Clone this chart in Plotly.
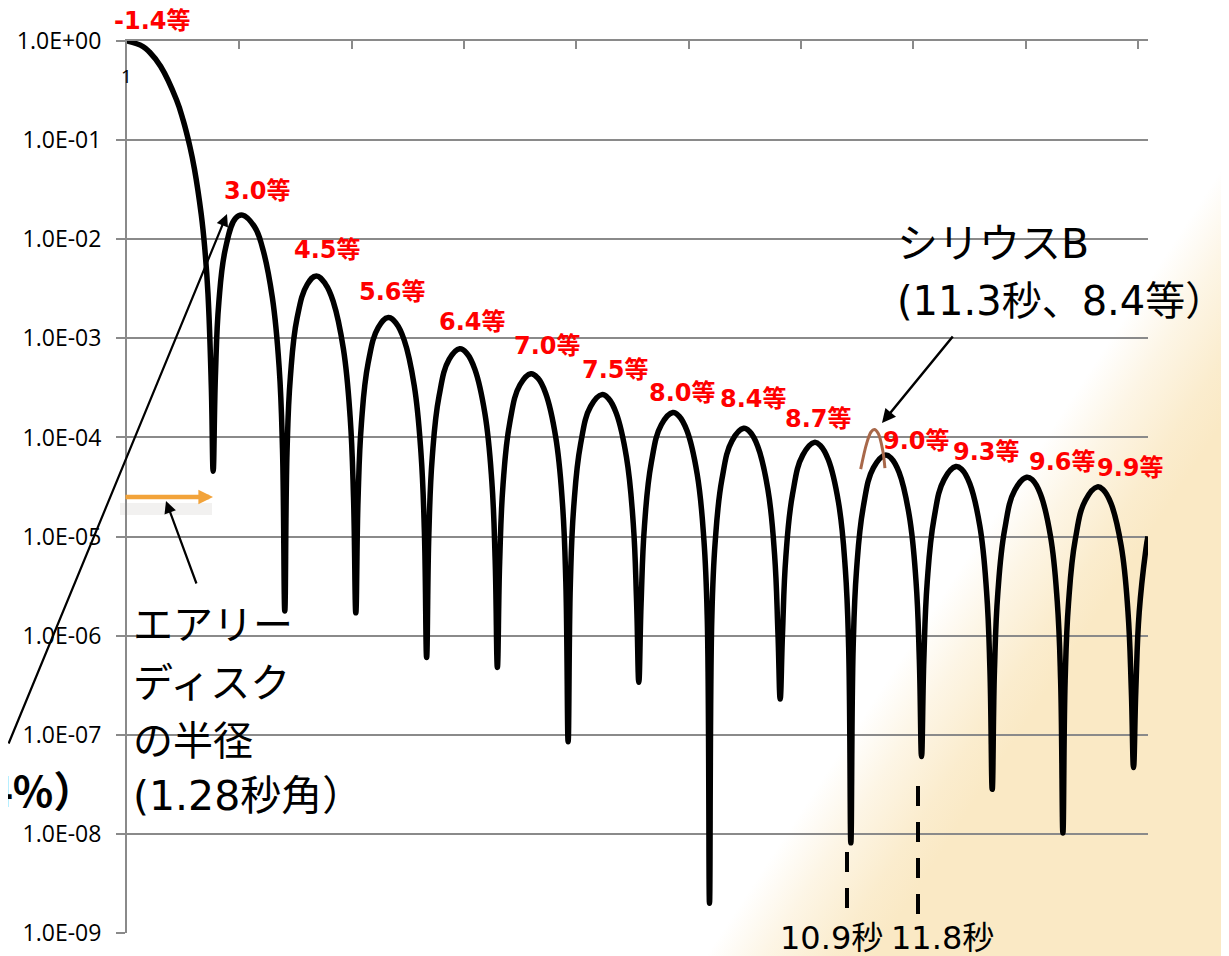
import base64
import numpy as np
import plotly.graph_objects as go

# ---------------- data ----------------
# angular separation from the star centre [arcsec]
sep_arcsec = [
    0.000, 0.238, 0.334, 0.501, 0.735, 0.835, 0.935, 1.002, 1.102, 1.153, 1.203, 1.253, 1.280,
    1.313, 1.364, 1.464, 1.614, 1.716, 1.893, 2.010, 2.160, 2.260, 2.310, 2.344,
    2.377, 2.427, 2.527, 2.678, 2.813, 2.948, 3.065, 3.215, 3.315, 3.365, 3.399,
    3.432, 3.482, 3.582, 3.733, 3.882, 4.000, 4.117, 4.267, 4.367, 4.418, 4.451,
    4.484, 4.534, 4.635, 4.785, 4.943, 5.051, 5.168, 5.318, 5.419, 5.469, 5.502,
    5.536, 5.586, 5.686, 5.836, 6.000, 6.102, 6.219, 6.369, 6.469, 6.519, 6.553,
    6.586, 6.636, 6.737, 6.887, 7.054, 7.152, 7.269, 7.419, 7.520, 7.570, 7.603,
    7.637, 7.687, 7.787, 7.937, 8.108, 8.202, 8.319, 8.470, 8.570, 8.620, 8.653,
    8.687, 8.737, 8.837, 8.987, 9.160, 9.252, 9.369, 9.520, 9.620, 9.670, 9.703,
    9.737, 9.787, 9.887, 10.038, 10.212, 10.302, 10.419, 10.570, 10.670, 10.720, 10.753,
    10.787, 10.837, 10.937, 11.087, 11.264, 11.352, 11.469, 11.619, 11.720, 11.770, 11.803,
    11.837, 11.887, 11.987, 12.137, 12.314, 12.402, 12.519, 12.669, 12.769, 12.819, 12.853,
    12.886, 12.936, 13.037, 13.187, 13.365, 13.452, 13.569, 13.719, 13.819, 13.869, 13.903,
    13.936, 13.986, 14.086, 14.237, 14.416, 14.501, 14.618, 14.769, 14.869, 14.919, 14.952,
    14.986, 15.036, 15.136, 15.166,
]
# relative intensity, log10
intensity_log10 = [
    0.000, -0.056, -0.111, -0.257, -0.593, -0.801, -1.067, -1.291, -1.745, -2.074, -2.550, -3.500, -4.340,
    -3.390, -2.640, -2.090, -1.787, -1.757, -1.873, -2.080, -2.593, -3.290, -4.120, -5.750,
    -4.152, -3.391, -2.794, -2.456, -2.370, -2.452, -2.632, -3.108, -3.797, -4.605, -5.770,
    -4.631, -3.861, -3.249, -2.889, -2.790, -2.850, -3.016, -3.477, -4.156, -4.960, -6.220,
    -4.979, -4.205, -3.584, -3.212, -3.105, -3.154, -3.313, -3.763, -4.437, -5.238, -6.320,
    -5.254, -4.477, -3.851, -3.471, -3.357, -3.400, -3.554, -3.998, -4.668, -5.467, -7.070,
    -5.480, -4.701, -4.071, -3.687, -3.568, -3.607, -3.757, -4.197, -4.864, -5.661, -6.470,
    -5.673, -4.893, -4.260, -3.872, -3.749, -3.786, -3.933, -4.370, -5.035, -5.831, -8.700,
    -5.841, -5.060, -4.425, -4.034, -3.908, -3.943, -4.088, -4.522, -5.185, -5.980, -6.640,
    -5.989, -5.208, -4.571, -4.178, -4.050, -4.083, -4.226, -4.658, -5.320, -6.115, -8.090,
    -6.123, -5.340, -4.703, -4.307, -4.178, -4.209, -4.351, -4.782, -5.442, -6.236, -7.220,
    -6.244, -5.461, -4.822, -4.425, -4.294, -4.324, -4.465, -4.894, -5.554, -6.348, -7.550,
    -6.354, -5.571, -4.932, -4.533, -4.401, -4.430, -4.570, -4.998, -5.657, -6.450, -7.990,
    -6.457, -5.673, -5.033, -4.633, -4.499, -4.528, -4.667, -5.094, -5.753, -6.545, -7.330,
    -6.551, -5.767, -5.126, -5.000,
]
# Sirius B profile (brown arc)
siriusB_arcsec = [10.899, 10.988, 11.052, 11.101, 11.160, 11.226, 11.259]
siriusB_log10 = [-4.32, -4.06, -3.945, -3.92, -3.96, -4.13, -4.31]

# magnitude labels of each ring
mag_labels = ["-1.4等", "3.0等", "4.5等", "5.6等", "6.4等", "7.0等", "7.5等",
              "8.0等", "8.4等", "8.7等", "9.0等", "9.3等", "9.6等", "9.9等"]

ytick_vals = [1e0, 1e-1, 1e-2, 1e-3, 1e-4, 1e-5, 1e-6, 1e-7, 1e-8, 1e-9]
ytick_text = ["1.0E+00", "1.0E-01", "1.0E-02", "1.0E-03", "1.0E-04",
              "1.0E-05", "1.0E-06", "1.0E-07", "1.0E-08", "1.0E-09"]
xtick_vals = [1.669, 3.338, 5.007, 6.676, 8.345, 10.014, 11.683, 13.352, 15.021]

# ---------------- layout geometry (page pixels) ----------------
W, H = 1229, 956
OFF = 8                      # default body margin of the page
L, R, T, B = 127, 1148, 41, 933


def px(x):
    return (x - L) / (R - L)


def py(y):
    return (B - y) / (B - T)


mag_pos = [(152, 21), (257, 191), (327, 250), (392, 292), (472, 322), (547, 346),
           (615, 370), (682, 393), (753, 399), (818, 419), (916, 441), (986, 452),
           (1062, 462), (1130, 468)]

GRID = "#8a8a8a"
JP = "Noto Sans CJK JP"
MIX = "DejaVu Sans, Noto Sans CJK JP"

fig = go.Figure()

fig.add_trace(go.Scatter(
    x=sep_arcsec, y=(10 ** np.array(intensity_log10)).tolist(),
    mode="lines", line=dict(color="black", width=5.5, shape="spline", smoothing=1.2),
    hoverinfo="skip", showlegend=False))

fig.add_trace(go.Scatter(
    x=siriusB_arcsec, y=(10 ** np.array(siriusB_log10)).tolist(),
    mode="lines", line=dict(color="#A8684A", width=3, shape="spline", smoothing=1.0),
    hoverinfo="skip", showlegend=False))

# background gradient (slide background), coordinates in figure pixels
n = (0.836, 0.548)
s0, s1 = 1115, 1255
gx1, gy1 = s0 * n[0] - OFF, s0 * n[1] - OFF
gx2, gy2 = s1 * n[0] - OFF, s1 * n[1] - OFF
svg = (
    "<svg xmlns='http://www.w3.org/2000/svg' width='1229' height='956' viewBox='0 0 1229 956' "
    "preserveAspectRatio='none'><defs><linearGradient id='g' gradientUnits='userSpaceOnUse' "
    "x1='%.1f' y1='%.1f' x2='%.1f' y2='%.1f'>"
    "<stop offset='0' stop-color='#FAE9C5' stop-opacity='0'/>"
    "<stop offset='0.35' stop-color='#FAE9C5' stop-opacity='0.45'/>"
    "<stop offset='0.75' stop-color='#FAE9C5' stop-opacity='0.85'/>"
    "<stop offset='1' stop-color='#FAE9C5' stop-opacity='1'/>"
    "</linearGradient></defs><rect width='1229' height='956' fill='url(#g)'/></svg>"
) % (gx1, gy1, gx2, gy2)
src = "data:image/svg+xml;base64," + base64.b64encode(svg.encode()).decode()

annotations = []
for txt, (x, y) in zip(mag_labels, mag_pos):
    annotations.append(dict(
        x=px(x), y=py(y), xref="paper", yref="paper", text="<b>%s</b>" % txt,
        showarrow=False, xanchor="center", yanchor="middle",
        font=dict(family=MIX, size=24, color="#FF0000")))


def label(text, x, y, size, xanchor="left", family=JP, color="black"):
    annotations.append(dict(
        x=px(x), y=py(y), xref="paper", yref="paper", text=text, showarrow=False,
        xanchor=xanchor, yanchor="middle", font=dict(family=family, size=size, color=color)))


label("シリウスB", 895, 244, 41, family=MIX)
label("(11.3秒、8.4等）", 895, 301, 40, family=MIX)
label("エアリー", 131, 622, 40)
label("ディスク", 131, 680, 40)
label("の半径", 131, 738, 40)
label("(1.28秒角）", 131, 796, 41, family=MIX)
label("10.9秒", 831, 938, 32, xanchor="center", family=MIX)
label("11.8秒", 942, 938, 32, xanchor="center", family=MIX)
label("1", 126, 76, 19, xanchor="center", family="Open Sans")
label("<b>4%）</b>", 97, 788, 42, xanchor="right")


def arrow(tip, tail, color="black", width=2.2, head=2, size=1.1):
    annotations.append(dict(
        x=px(tip[0]), y=py(tip[1]), xref="paper", yref="paper", text="",
        showarrow=True, ax=tail[0] - tip[0], ay=tail[1] - tip[1],
        arrowcolor=color, arrowwidth=width, arrowhead=head, arrowsize=size, standoff=0))


arrow((227, 214), (-40, 745))
arrow((166, 501), (197, 585))
arrow((882, 423), (954, 335), width=2.5)
arrow((213, 497), (124, 497), color="#F2A33A", width=4.5, size=0.65)

shapes = [
    dict(type="line", xref="paper", yref="paper", x0=px(120), x1=px(212), y0=py(509), y1=py(509),
         line=dict(color="rgba(90,80,70,0.08)", width=12), layer="below"),
    dict(type="line", xref="paper", yref="paper", x0=px(847), x1=px(847), y0=py(852), y1=py(918),
         line=dict(color="black", width=4, dash="20px,16px")),
    dict(type="line", xref="paper", yref="paper", x0=px(918), x1=px(918), y0=py(786), y1=py(918),
         line=dict(color="black", width=4, dash="20px,16px")),
]

fig.update_layout(
    width=W, height=H, autosize=False,
    margin=dict(l=L - OFF, r=W - (R - OFF), t=T - OFF, b=H - (B - OFF), pad=0),
    paper_bgcolor="white", plot_bgcolor="rgba(0,0,0,0)",
    showlegend=False,
    images=[dict(source=src, xref="paper", yref="paper",
                 x=-(L - OFF) / (R - L), y=1 + (T - OFF) / (B - T),
                 sizex=W / (R - L), sizey=H / (B - T),
                 xanchor="left", yanchor="top", sizing="stretch", layer="below")],
    xaxis=dict(range=[0, 15.167], side="top", showline=True, linecolor=GRID, linewidth=2,
               ticks="inside", ticklen=8, tickwidth=2, tickcolor=GRID, tickvals=xtick_vals,
               showticklabels=False, showgrid=False, zeroline=False, fixedrange=True),
    yaxis=dict(type="log", range=[-9, 0], showline=True, linecolor=GRID, linewidth=2,
               ticks="outside", ticklen=9, tickwidth=2, tickcolor=GRID,
               tickvals=ytick_vals, ticktext=ytick_text, ticklabelstandoff=10,
               showgrid=True, gridcolor=GRID, gridwidth=1.5, zeroline=False,
               tickfont=dict(family="Open Sans", size=23, color="black"),
               automargin=False, fixedrange=True),
    annotations=annotations,
    shapes=shapes,
)

fig.write_html("out.html")
